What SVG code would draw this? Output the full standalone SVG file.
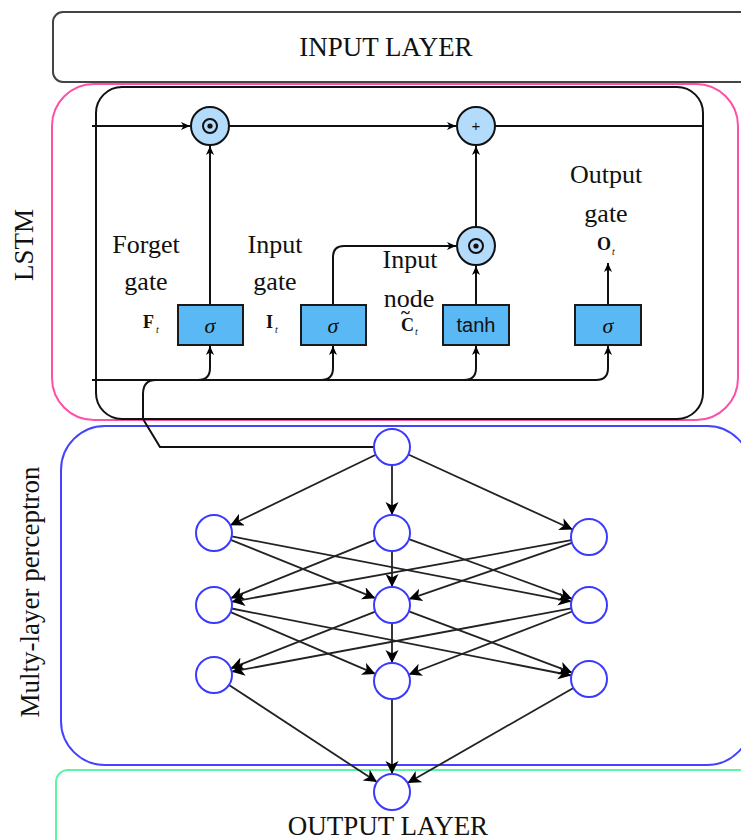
<svg xmlns="http://www.w3.org/2000/svg" width="741" height="840" viewBox="0 0 741 840">
  <defs>
    <marker id="arrowBig" markerUnits="userSpaceOnUse" markerWidth="14" markerHeight="14" refX="13" refY="6.5" orient="auto">
      <path d="M0,0 L13,6.5 L0,13 L3.5,6.5 z" fill="#000"/>
    </marker>
    <marker id="arrowSmall" markerUnits="userSpaceOnUse" markerWidth="10" markerHeight="9" refX="9" refY="4" orient="auto">
      <path d="M0,0 L9,4 L0,8 L2.5,4 z" fill="#000"/>
    </marker>
    <style>
      .lbl { font-family: "Liberation Serif", "Times New Roman", serif; fill: #111; }
      .frame { fill: none; stroke-width: 2; }
      .cell { fill: #ffffff; stroke: #111; stroke-width: 2; }
      .op { fill: #b3dbfb; stroke: #111; stroke-width: 2; }
      .act { fill: #5ab8f4; stroke: #1a1a1a; stroke-width: 2; }
      .neuron { fill: #ffffff; stroke: #3a3aff; stroke-width: 2; }
      .wire { fill: none; stroke: #111; stroke-width: 2; }
      .edge { fill: none; stroke: #222; stroke-width: 1.8; marker-end: url(#arrowBig); }
      .sym { font-family: "Liberation Serif", "Times New Roman", serif; font-style: italic; font-size: 22px; fill: #111; text-anchor: middle; }
    </style>
  </defs>

  <!-- layer frames -->
  <g id="input-layer">
    <rect x="53" y="12" width="720" height="70" rx="10" class="frame" stroke="#444"/>
    <text x="386" y="56" class="lbl" font-size="27" text-anchor="middle">INPUT LAYER</text>
  </g>

  <g id="output-layer">
    <rect x="56" y="770" width="720" height="90" rx="12" class="frame" stroke="#5cf5a3"/>
    <text x="388" y="835" class="lbl" font-size="27" text-anchor="middle">OUTPUT LAYER</text>
  </g>

  <g id="lstm-frame">
    <rect x="52" y="84" width="686" height="336" rx="42" class="frame" stroke="#ff4fa6"/>
    <text transform="translate(33,245) rotate(-90)" class="lbl" font-size="27" text-anchor="middle">LSTM</text>
  </g>

  <g id="mlp-frame">
    <rect x="61" y="426" width="690" height="339" rx="44" class="frame" stroke="#4444ff"/>
    <text transform="translate(39,592) rotate(-90)" class="lbl" font-size="27" text-anchor="middle">Multy-layer perceptron</text>
  </g>

  <!-- LSTM cell -->
  <g id="lstm-cell">
    <rect x="96" y="87" width="607" height="332" rx="26" class="cell"/>
  </g>

  <!-- LSTM wiring -->
  <g id="lstm-connectors">
    <line x1="92" y1="126" x2="190" y2="126" class="wire" marker-end="url(#arrowSmall)"/>
    <line x1="229" y1="126" x2="456" y2="126" class="wire" marker-end="url(#arrowSmall)"/>
    <line x1="495" y1="126" x2="703" y2="126" class="wire"/>
    <line x1="210" y1="305" x2="210" y2="146" class="wire" marker-end="url(#arrowSmall)"/>
    <path d="M333,305 V257 Q333,246 344,246 H456" class="wire" marker-end="url(#arrowSmall)"/>
    <line x1="476" y1="305" x2="476" y2="266" class="wire" marker-end="url(#arrowSmall)"/>
    <line x1="476" y1="227" x2="476" y2="146" class="wire" marker-end="url(#arrowSmall)"/>
    <line x1="608" y1="305" x2="608" y2="263" class="wire" marker-end="url(#arrowSmall)"/>
    <path d="M92,380 H596 Q608,380 608,368 V346" class="wire" marker-end="url(#arrowSmall)"/>
    <path d="M198,380 Q210,380 210,368 V346" class="wire" marker-end="url(#arrowSmall)"/>
    <path d="M321,380 Q333,380 333,368 V346" class="wire" marker-end="url(#arrowSmall)"/>
    <path d="M464,380 Q476,380 476,368 V346" class="wire" marker-end="url(#arrowSmall)"/>
    <path d="M156,380 Q143,380 143,394 V419 L160,447 H374" class="wire"/>
  </g>

  <g id="op-forget-mul">
    <circle cx="210" cy="126" r="19" class="op"/>
    <circle cx="210" cy="126" r="7" fill="none" stroke="#111" stroke-width="2"/>
    <circle cx="210" cy="126" r="2.6" fill="#111"/>
  </g>
  <g id="op-add">
    <circle cx="476" cy="126" r="19" class="op"/>
    <text x="476" y="131" font-family="Liberation Sans, Arial, sans-serif" font-size="15" text-anchor="middle" fill="#111">+</text>
  </g>
  <g id="op-input-mul">
    <circle cx="476" cy="246" r="19" class="op"/>
    <circle cx="476" cy="246" r="7" fill="none" stroke="#111" stroke-width="2"/>
    <circle cx="476" cy="246" r="2.6" fill="#111"/>
  </g>

  <g id="forget-gate">
    <rect x="178" y="305" width="65" height="40" class="act"/>
    <text x="210" y="333" class="sym">σ</text>
    <text x="146" y="253" class="lbl" font-size="26" text-anchor="middle">Forget</text>
    <text x="146" y="290" class="lbl" font-size="26" text-anchor="middle">gate</text>
    <text x="143" y="328" class="lbl" font-size="18" font-weight="bold">F</text>
    <text x="156" y="333" class="lbl" font-size="10" font-style="italic">t</text>
  </g>

  <g id="input-gate">
    <rect x="301" y="305" width="65" height="40" class="act"/>
    <text x="333" y="333" class="sym">σ</text>
    <text x="275" y="253" class="lbl" font-size="26" text-anchor="middle">Input</text>
    <text x="275" y="290" class="lbl" font-size="26" text-anchor="middle">gate</text>
    <text x="266" y="328" class="lbl" font-size="18" font-weight="bold">I</text>
    <text x="275" y="333" class="lbl" font-size="10" font-style="italic">t</text>
  </g>

  <g id="input-node">
    <rect x="443" y="305" width="66" height="40" class="act"/>
    <text x="476" y="332" font-family="Liberation Sans, Arial, sans-serif" font-size="20" text-anchor="middle" fill="#111">tanh</text>
    <text x="410" y="268" class="lbl" font-size="26" text-anchor="middle">Input</text>
    <text x="409" y="307" class="lbl" font-size="26" text-anchor="middle">node</text>
    <text x="401" y="331" class="lbl" font-size="18" font-weight="bold">C<tspan x="401" y="318" font-size="17">~</tspan></text>
    <text x="415" y="335" class="lbl" font-size="10" font-style="italic">t</text>
  </g>

  <g id="output-gate">
    <rect x="575" y="305" width="66" height="40" class="act"/>
    <text x="608" y="333" class="sym">σ</text>
    <text x="606" y="183" class="lbl" font-size="26" text-anchor="middle">Output</text>
    <text x="606" y="222" class="lbl" font-size="26" text-anchor="middle">gate</text>
    <text x="597" y="250" class="lbl" font-size="18" font-weight="bold">O</text>
    <text x="612" y="255" class="lbl" font-size="10" font-style="italic">t</text>
  </g>

  <!-- perceptron connectors -->
  <g id="mlp-connectors">
    <line x1="375.8" y1="454.8" x2="230.2" y2="525.2" class="edge"/>
    <line x1="392" y1="465" x2="392" y2="515" class="edge"/>
    <line x1="408.4" y1="454.5" x2="572.6" y2="529.5" class="edge"/>

    <line x1="230.7" y1="539.8" x2="375.3" y2="598.2" class="edge"/>
    <line x1="231.7" y1="536.4" x2="571.3" y2="601.6" class="edge"/>
    <line x1="375.3" y1="539.8" x2="230.7" y2="598.2" class="edge"/>
    <line x1="392" y1="551" x2="392" y2="587" class="edge"/>
    <line x1="408.9" y1="539.2" x2="572.1" y2="598.8" class="edge"/>
    <line x1="571.3" y1="540.2" x2="231.7" y2="601.8" class="edge"/>
    <line x1="572.0" y1="542.9" x2="409.0" y2="599.1" class="edge"/>

    <line x1="230.6" y1="612.1" x2="375.4" y2="673.9" class="edge"/>
    <line x1="231.7" y1="608.5" x2="571.3" y2="675.5" class="edge"/>
    <line x1="375.3" y1="611.6" x2="230.7" y2="668.4" class="edge"/>
    <line x1="392" y1="623" x2="392" y2="663" class="edge"/>
    <line x1="408.9" y1="611.3" x2="572.1" y2="672.7" class="edge"/>
    <line x1="571.3" y1="608.3" x2="231.7" y2="671.7" class="edge"/>
    <line x1="572.2" y1="611.5" x2="408.8" y2="674.5" class="edge"/>

    <line x1="229.0" y1="684.9" x2="377.0" y2="782.1" class="edge"/>
    <line x1="392" y1="699" x2="392" y2="774" class="edge"/>
    <line x1="573.4" y1="688.0" x2="407.6" y2="783.0" class="edge"/>
  </g>

  <!-- perceptron neurons -->
  <g id="n-top"><circle cx="392" cy="447" r="18" class="neuron"/></g>
  <g id="n-l1"><circle cx="214" cy="533" r="18" class="neuron"/></g>
  <g id="n-m1"><circle cx="392" cy="533" r="18" class="neuron"/></g>
  <g id="n-r1"><circle cx="589" cy="537" r="18" class="neuron"/></g>
  <g id="n-l2"><circle cx="214" cy="605" r="18" class="neuron"/></g>
  <g id="n-m2"><circle cx="392" cy="605" r="18" class="neuron"/></g>
  <g id="n-r2"><circle cx="589" cy="605" r="18" class="neuron"/></g>
  <g id="n-l3"><circle cx="214" cy="675" r="18" class="neuron"/></g>
  <g id="n-m3"><circle cx="392" cy="681" r="18" class="neuron"/></g>
  <g id="n-r3"><circle cx="589" cy="679" r="18" class="neuron"/></g>
  <g id="n-out"><circle cx="392" cy="792" r="18" class="neuron"/></g>
</svg>
